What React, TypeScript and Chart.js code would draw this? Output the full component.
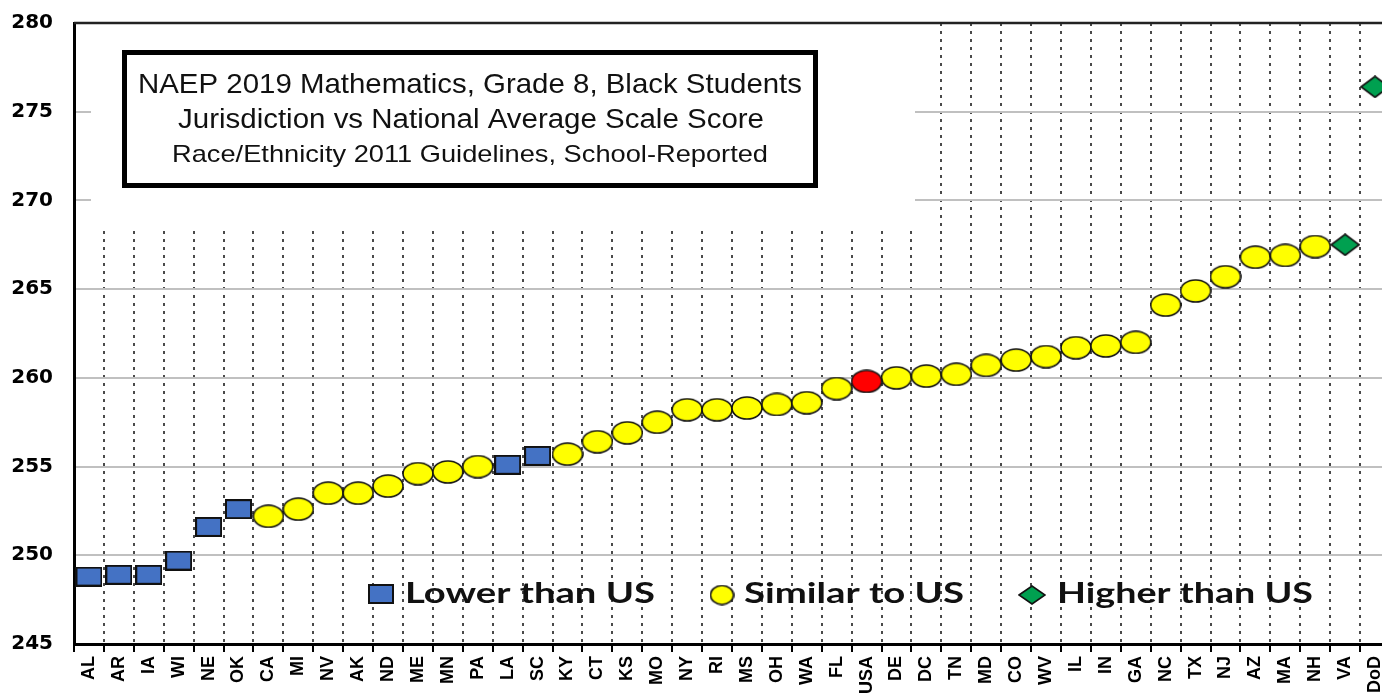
import React, { useEffect, useRef } from "react";
import { Chart, registerables } from "chart.js";

Chart.register(...registerables);

// ---------------- data ----------------
const jurisdictions = [
  "AL", "AR", "IA", "WI", "NE", "OK", "CA", "MI", "NV", "AK", "ND", "ME", "MN", "PA", "LA",
  "SC", "KY", "CT", "KS", "MO", "NY", "RI", "MS", "OH", "WA", "FL", "USA", "DE", "DC", "TN",
  "MD", "CO", "WV", "IL", "IN", "GA", "NC", "TX", "NJ", "AZ", "MA", "NH", "VA", "DoD",
];
const scores = [
  248.8, 248.9, 248.9, 249.7, 251.6, 252.6, 252.2, 252.6, 253.5, 253.5, 253.9, 254.6, 254.7, 255.0, 255.1,
  255.6, 255.7, 256.4, 256.9, 257.5, 258.2, 258.2, 258.3, 258.5, 258.6, 259.4, 259.8, 260.0, 260.1, 260.2,
  260.7, 261.0, 261.2, 261.7, 261.8, 262.0, 264.1, 264.9, 265.7, 266.8, 266.9, 267.4, 267.5, 276.4,
];
// L = lower than US, S = similar to US, N = national (USA), H = higher than US
const comparison = [
  "L", "L", "L", "L", "L", "L", "S", "S", "S", "S", "S", "S", "S", "S", "L",
  "L", "S", "S", "S", "S", "S", "S", "S", "S", "S", "S", "N", "S", "S", "S",
  "S", "S", "S", "S", "S", "S", "S", "S", "S", "S", "S", "S", "H", "H",
];
const yTickValues = [245, 250, 255, 260, 265, 270, 275, 280];
const titleLines = [
  "NAEP 2019 Mathematics, Grade 8, Black Students",
  "Jurisdiction vs National Average Scale Score",
  "Race/Ethnicity 2011 Guidelines, School-Reported",
];
const legendLabels = ["Lower than US", "Similar to US", "Higher than US"];

// ---------------- styles ----------------
const BLUE = "#4472C4";
const YELLOW = "#FFFF00";
const RED = "#FF0000";
const GREEN = "#00A050";

function makeCanvas(w: number, h: number, draw: (c: CanvasRenderingContext2D) => void) {
  const cv = document.createElement("canvas");
  cv.width = w;
  cv.height = h;
  const c = cv.getContext("2d")!;
  draw(c);
  return cv;
}

function squareMarker(w: number, h: number) {
  return makeCanvas(w + 2, h + 2, (c) => {
    c.fillStyle = BLUE;
    c.fillRect(1, 1, w, h);
    c.lineWidth = 2;
    c.strokeStyle = "#111";
    c.strokeRect(1, 1, w, h);
  });
}
function ellipseMarker(w: number, h: number, fill: string) {
  return makeCanvas(w + 2, h + 2, (c) => {
    c.beginPath();
    c.ellipse((w + 2) / 2, (h + 2) / 2, w / 2, h / 2, 0, 0, Math.PI * 2);
    c.fillStyle = fill;
    c.fill();
    c.lineWidth = 1.6;
    c.strokeStyle = "#111";
    c.stroke();
  });
}
function diamondMarker(w: number, h: number) {
  return makeCanvas(w + 2, h + 2, (c) => {
    const cx = (w + 2) / 2;
    const cy = (h + 2) / 2;
    c.beginPath();
    c.moveTo(cx - w / 2, cy);
    c.lineTo(cx, cy - h / 2);
    c.lineTo(cx + w / 2, cy);
    c.lineTo(cx, cy + h / 2);
    c.closePath();
    c.fillStyle = GREEN;
    c.fill();
    c.lineWidth = 1.6;
    c.strokeStyle = "#111";
    c.stroke();
  });
}

function fitText(
  ctx: CanvasRenderingContext2D,
  text: string,
  x: number,
  baseline: number,
  width: number,
  font: string,
  center: boolean
) {
  ctx.save();
  ctx.font = font;
  ctx.textAlign = "left";
  ctx.textBaseline = "alphabetic";
  const w = ctx.measureText(text).width;
  const s = width / w;
  const x0 = center ? x - width / 2 : x;
  ctx.translate(x0, baseline);
  ctx.scale(s, 1);
  ctx.fillStyle = "#111";
  ctx.fillText(text, 0, 0);
  ctx.restore();
}

const overlayPlugin = {
  id: "naepOverlay",
  beforeDatasetsDraw(chart: any) {
    const { ctx, chartArea } = chart;
    ctx.save();
    // blank region behind the title box
    ctx.fillStyle = "#ffffff";
    ctx.fillRect(91, chartArea.top, 915 - 91, 231 - chartArea.top);
    // top border of the plot area
    ctx.strokeStyle = "#222";
    ctx.lineWidth = 2.5;
    ctx.beginPath();
    ctx.moveTo(chartArea.left, chartArea.top);
    ctx.lineTo(chartArea.right, chartArea.top);
    ctx.stroke();
    ctx.restore();
  },
  afterDatasetsDraw(chart: any) {
    const { ctx } = chart;
    ctx.save();
    // title box
    ctx.fillStyle = "#ffffff";
    ctx.fillRect(122, 50, 696, 138);
    ctx.strokeStyle = "#000";
    ctx.lineWidth = 5;
    ctx.strokeRect(124.5, 52.5, 691, 133);
    fitText(ctx, titleLines[0], 470, 93, 664, "28px 'Liberation Sans', Arial, sans-serif", true);
    fitText(ctx, titleLines[1], 471, 128, 586, "27px 'Liberation Sans', Arial, sans-serif", true);
    fitText(ctx, titleLines[2], 470, 162, 596, "24px 'Liberation Sans', Arial, sans-serif", true);

    // legend
    const legendFont = "bold 28px Lato, 'Open Sans', sans-serif";
    const sq = squareMarker(24, 18);
    ctx.drawImage(sq, 381 - sq.width / 2, 594 - sq.height / 2);
    fitText(ctx, legendLabels[0], 405, 603, 250, legendFont, false);
    const el = ellipseMarker(23, 19, YELLOW);
    ctx.drawImage(el, 722 - el.width / 2, 595 - el.height / 2);
    fitText(ctx, legendLabels[1], 744, 603, 220, legendFont, false);
    const dm = diamondMarker(26, 18);
    ctx.drawImage(dm, 1032 - dm.width / 2, 595 - dm.height / 2);
    fitText(ctx, legendLabels[2], 1057, 603, 256, legendFont, false);
    ctx.restore();
  },
};

export default function App() {
  const canvasRef = useRef<HTMLCanvasElement | null>(null);

  useEffect(() => {
    if (!canvasRef.current) return;
    const squareImg = squareMarker(25, 18);
    const yellowImg = ellipseMarker(30, 22, YELLOW);
    const redImg = ellipseMarker(30, 22, RED);
    const diamondImg = diamondMarker(28, 21);

    const pick = (code: string) => scores.map((v, i) => (comparison[i] === code ? v : null));

    const ds = (code: string, img: HTMLCanvasElement, label: string) => ({
      label,
      data: pick(code),
      showLine: false,
      pointStyle: img,
      pointRadius: 12,
      pointHoverRadius: 12,
      borderColor: "#000",
      backgroundColor: "#000",
      clip: false,
    });

    const chart = new Chart(canvasRef.current, {
      type: "line",
      data: {
        labels: jurisdictions,
        datasets: [
          ds("H", diamondImg, legendLabels[2]),
          ds("N", redImg, "USA"),
          ds("L", squareImg, legendLabels[0]),
          ds("S", yellowImg, legendLabels[1]),
        ],
      },
      options: {
        animation: false,
        responsive: false,
        events: [],
        layout: { autoPadding: false, padding: { top: 23, left: 0, right: 2, bottom: 0 } },
        plugins: {
          legend: { display: false },
          title: { display: false },
          tooltip: { enabled: false },
        },
        scales: {
          x: {
            type: "category",
            offset: true,
            grid: {
              display: true,
              offset: true,
              drawOnChartArea: true,
              color: "#4a4a4a",
              lineWidth: 2,
              drawTicks: true,
              tickLength: 8,
              tickColor: "#000",
              tickWidth: 2,
              tickBorderDash: [],
            },
            border: { display: true, color: "#000", width: 3, dash: [3, 5] },
            ticks: {
              autoSkip: false,
              minRotation: 90,
              maxRotation: 90,
              padding: 4,
              color: "#000",
              font: { family: "'Liberation Sans', Arial, sans-serif", weight: "bold", size: 18 },
            },
            afterFit: (scale: any) => {
              scale.height = 50;
              scale.paddingLeft = 0;
              scale.paddingRight = 0;
            },
          },
          y: {
            type: "linear",
            min: 245,
            max: 280,
            afterBuildTicks: (scale: any) => {
              scale.ticks = yTickValues.map((v) => ({ value: v }));
            },
            grid: {
              display: true,
              color: "#c0c0c0",
              lineWidth: 2,
              drawTicks: false,
            },
            border: { display: true, color: "#000", width: 3 },
            ticks: {
              padding: 21,
              color: "#000",
              font: { family: "'DejaVu Sans', sans-serif", weight: "bold", size: 20 },
            },
            afterFit: (scale: any) => {
              scale.width = 74;
              scale.paddingTop = 0;
              scale.paddingBottom = 0;
            },
          },
        },
      },
      plugins: [overlayPlugin],
    } as any);

    return () => chart.destroy();
  }, []);

  return (
    <div
      style={{
        position: "absolute",
        left: 0,
        top: 0,
        width: 1382,
        height: 694,
        overflow: "hidden",
        background: "#ffffff",
      }}
    >
      <canvas ref={canvasRef} width={1392} height={694} style={{ display: "block" }} />
    </div>
  );
}
